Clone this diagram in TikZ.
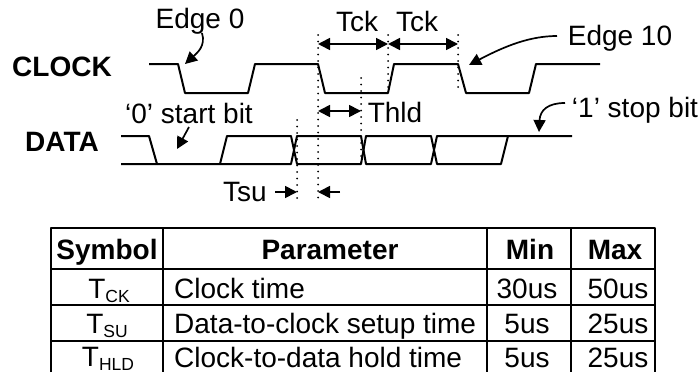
\documentclass[tikz,border=0pt]{standalone}
\usepackage{fontspec}
\setmainfont{Liberation Sans}
\usetikzlibrary{arrows.meta}
\newcommand{\subT}[1]{T\raisebox{-4pt}{\fontsize{17.5}{18}\selectfont #1}}
\tikzset{
	lbl/.style={anchor=base,inner sep=0pt,font=\fontsize{28}{30}\selectfont},
	lblb/.style={lbl,font=\fontsize{28}{30}\selectfont\bfseries},
	wave/.style={line width=2pt},
	guide/.style={line width=2pt,line cap=round,dash pattern=on 0pt off 6.5pt},
	tick/.style={<->,line width=1.7pt},
	note/.style={->,line width=1.7pt},
	grid/.style={line width=2pt}
}
\begin{document}
\begin{tikzpicture}[x=1pt,y=-1pt,>={Stealth[length=12pt,width=12pt,inset=0pt]},line join=round]
		\useasboundingbox (0,0) rectangle (700,372);
		\node[lblb] (clock) at (62,76) {CLOCK};
		\node[lblb] (data) at (62,151) {DATA};
		\draw[wave] (149,64)--(178,64)--(185,93)--(248,93)--(255,64)--(318,64)--(325,93)--(388,93)--(394,64)--(458,64)--(466,93)--(529,93)--(536,64)--(600,64);
		\draw[wave] (121,136)--(149,136)--(157,164)--(121,164);
		\draw[wave] (157,164)--(291,164)--(297,136)--(361,136)--(366,164)--(431,164)--(437,136)--(572,136);
		\draw[wave] (220,164)--(227,136)--(291,136)--(297,164)--(361,164)--(366,136)--(431,136)--(437,164)--(501,164)--(508,136);
		\draw[guide] (318,35)--(318,204);
		\draw[guide] (297,120)--(297,204);
		\draw[guide] (388,35)--(388,93);
		\draw[guide] (361,78)--(361,164);
		\draw[guide] (458,35)--(458,92);
		\coordinate (a) at (318,44);
		\coordinate (b) at (388,44);
		\coordinate (c) at (458,44);
		\coordinate (d) at (361,111);
		\coordinate (e) at (318,111);
		\draw[tick] (a)--(b);
		\draw[tick] (b)--(c);
		\draw[tick] (e)--(d);
		\node[lbl] (edgezero) at (200,28) {Edge 0};
		\node[lbl] (tckone) at (357,31) {Tck};
		\node[lbl] (tcktwo) at (417,31) {Tck};
		\node[lbl] (edgeten) at (620,45) {Edge 10};
		\node[lbl] (startbit) at (189,123) {‘0’ start bit};
		\node[lbl] (stopbit) at (635,117) {‘1’ stop bit};
		\node[lbl] (thld) at (395,122) {Thld};
		\node[lbl] (tsu) at (245,201) {Tsu};
		\coordinate (edgezerotip) at (185,64);
		\coordinate (starttip) at (177,149);
		\coordinate (edgetentip) at (469,65);
		\coordinate (stoptip) at (539,132);
		\draw[note] (202,33) .. controls (206,46) and (197,53) .. (edgezerotip);
		\draw[note] (189,127)--(starttip);
		\draw[note] (557,36) .. controls (530,36) and (505,46) .. (edgetentip);
		\draw[note] (565,103) .. controls (548,103) and (540,110) .. (stoptip);
		\coordinate (tsuleft) at (297,192);
		\coordinate (tsuright) at (318,192);
		\draw[note] (275,192)--(tsuleft);
		\draw[note] (340,192)--(tsuright);
		\draw[grid] (51,372)--(51,228)--(655,228)--(655,372);
		\foreach \y in {269,305,341} \draw[grid] (51,\y)--(655,\y);
		\foreach \x in {163,487,571} \draw[grid] (\x,228)--(\x,372);
		\node[lblb] (hsym) at (107,259) {Symbol};
		\node[lblb] (hpar) at (330,259) {Parameter};
		\node[lblb] (hmin) at (530,259) {Min};
		\node[lblb] (hmax) at (615,259) {Max};
		\node[lbl] (symck) at (109,298) {\subT{CK}};
		\node[lbl] (symsu) at (107,333) {\subT{SU}};
		\node[lbl] (symhld) at (108,366.5) {\subT{HLD}};
		\node[lbl,anchor=base west] (parck) at (174,298) {Clock time};
		\node[lbl,anchor=base west] (parsu) at (174,333) {Data-to-clock setup time};
		\node[lbl,anchor=base west] (parhld) at (174,367) {Clock-to-data hold time};
		\node[lbl] (minck) at (527,298) {30us};
		\node[lbl] (minsu) at (527,333) {5us};
		\node[lbl] (minhld) at (527,367) {5us};
		\node[lbl] (maxck) at (618,298) {50us};
		\node[lbl] (maxsu) at (618,333) {25us};
		\node[lbl] (maxhld) at (618,367) {25us};
\end{tikzpicture}
\end{document}
